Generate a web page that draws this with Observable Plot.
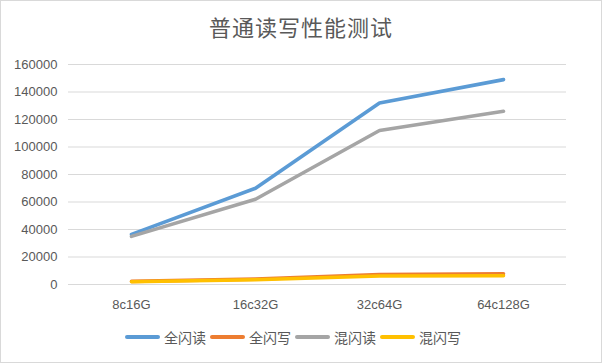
<!DOCTYPE html>
<html>
<head>
<meta charset="utf-8">
<script src="https://cdn.jsdelivr.net/npm/d3@7"></script>
<script src="https://cdn.jsdelivr.net/npm/@observablehq/plot@0.6"></script>
<style>
  html, body { margin: 0; padding: 0; background: #fff; }
  #frame { position: relative; width: 600px; height: 361px; border: 1px solid #d9d9d9; background: #fff; overflow: hidden; }
  #title { height: 44px; padding-top: 3px; box-sizing: border-box; line-height: 44px; text-align: center;
    font-family: "Noto Sans CJK SC", sans-serif; font-size: 22px; color: #595959; letter-spacing: 1px; }
  #chart { height: 272px; }
  #chart svg { display: block; overflow: visible; }
  #legend { height: 45px; display: flex; justify-content: center; align-items: center; box-sizing: border-box;
    font-family: "Noto Sans CJK SC", sans-serif; font-size: 14px; color: #595959; padding-right: 16px; padding-bottom: 5px; }
  .item { display: flex; align-items: center; margin-right: 4px; }
  .item:last-child { margin-right: 0; }
  .sw { width: 35px; height: 4px; border-radius: 2px; margin-right: 4px; }
</style>
</head>
<body>
<div id="frame">
  <div id="title"></div>
  <div id="chart"></div>
  <div id="legend"></div>
</div>
<script>
const titleText = "普通读写性能测试";
const categories = ["8c16G", "16c32G", "32c64G", "64c128G"];
const seriesNames = ["全闪读", "全闪写", "混闪读", "混闪写"];
const allFlashRead = [36500, 70000, 132000, 149000];
const allFlashWrite = [2300, 3900, 7300, 7800];
const hybridRead = [35000, 62000, 112000, 126000];
const hybridWrite = [2000, 3500, 6200, 6400];
const yTicks = [0, 20000, 40000, 60000, 80000, 100000, 120000, 140000, 160000];
const colors = ["#5B9BD5", "#ED7D31", "#A5A5A5", "#FFC000"];

const seriesValues = [allFlashRead, allFlashWrite, hybridRead, hybridWrite];
const data = [];
seriesValues.forEach((vals, si) => {
  vals.forEach((v, i) => data.push({series: seriesNames[si], cat: categories[i], value: v}));
});

document.getElementById("title").textContent = titleText;

const chart = Plot.plot({
  width: 600,
  height: 272,
  marginLeft: 67,
  marginRight: 35,
  marginTop: 19,
  marginBottom: 33,
  style: {fontFamily: "'Liberation Sans', Arial, sans-serif", fontSize: "13px", color: "#595959", background: "#fff"},
  x: {type: "point", domain: categories, padding: 0.5, label: null},
  y: {domain: [0, 160000], label: null},
  color: {domain: seriesNames, range: colors},
  marks: [
    Plot.ruleY(yTicks, {stroke: "#d9d9d9", strokeWidth: 1}),
    Plot.axisY({ticks: yTicks, tickSize: 0, tickPadding: 11, tickFormat: d => String(d), label: null, fill: "#595959"}),
    Plot.axisX({tickSize: 0, tickPadding: 15, label: null, fill: "#595959"}),
    Plot.line(data, {x: "cat", y: "value", z: "series", stroke: "series", strokeWidth: 3.6, strokeLinecap: "round", strokeLinejoin: "round"})
  ]
});
document.getElementById("chart").appendChild(chart);

const legend = document.getElementById("legend");
seriesNames.forEach((name, i) => {
  const item = document.createElement("div");
  item.className = "item";
  const sw = document.createElement("div");
  sw.className = "sw";
  sw.style.background = colors[i];
  const label = document.createElement("span");
  label.textContent = name;
  item.appendChild(sw);
  item.appendChild(label);
  legend.appendChild(item);
});
</script>
</body>
</html>
